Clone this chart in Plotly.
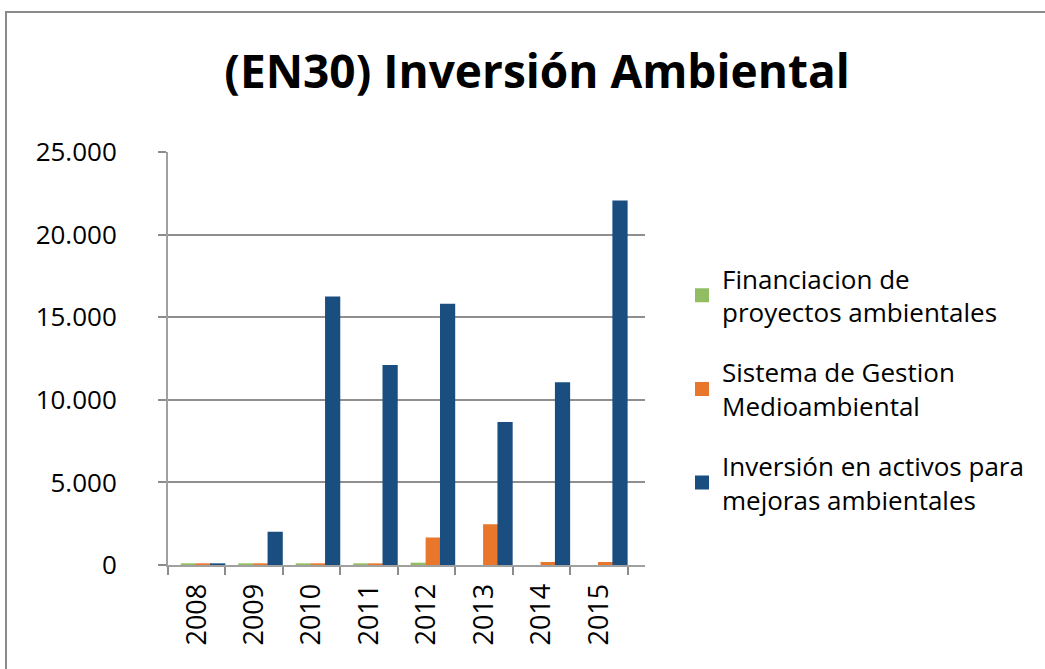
import plotly.graph_objects as go

years = ["2008", "2009", "2010", "2011", "2012", "2013", "2014", "2015"]
financiacion = [40, 40, 40, 40, 80, None, None, None]
sistema_gestion = [40, 40, 40, 40, 1600, 2400, 120, 120]
inversion_activos = [40, 1950, 16200, 12050, 15750, 8600, 11000, 22000]

series_names = [
    "Financiacion de<br>proyectos ambientales",
    "Sistema de Gestion<br>Medioambiental",
    "Inversión en activos para<br>mejoras ambientales",
]
colors = ["#93bd62", "#e9772b", "#1a4e80"]
series = [financiacion, sistema_gestion, inversion_activos]
offsets = [-0.26, 0.0, 0.25]

FONT = "Open Sans, Liberation Sans, sans-serif"

fig = go.Figure()
for i, (name, vals, col, off) in enumerate(zip(series_names, series, colors, offsets)):
    fig.add_trace(go.Bar(
        x=years, y=vals, name=name,
        marker=dict(color=col, line=dict(width=2, color=col)),
        width=0.23, offset=off,
        legendgroup=f"g{i}",
    ))

W, H = 1045, 669
ml, mr, mt, mb = 168, 400, 152, 104
pw = W - ml - mr
ph = H - mt - mb

fig.update_layout(
    width=W, height=H,
    margin=dict(l=ml, r=mr, t=mt, b=mb, pad=0),
    paper_bgcolor="white", plot_bgcolor="white",
    separators=",.",
    barmode="group",
    title=dict(
        text="<b>(EN30) Inversión Ambiental</b>",
        x=537 / W, xref="container", xanchor="center",
        y=1 - 72 / H, yref="container", yanchor="middle",
        font=dict(family=FONT, size=46, color="black"),
    ),
    font=dict(family=FONT, color="black"),
    legend=dict(
        x=(682 - ml) / pw, xanchor="left",
        y=(H - mb - 255) / ph, yanchor="top",
        font=dict(family=FONT, size=26, color="black"),
        tracegroupgap=23,
        bgcolor="rgba(0,0,0,0)",
        itemwidth=30,
    ),
    xaxis=dict(
        type="category",
        range=[-0.5, 7.8],
        tickangle=-90,
        tickfont=dict(family=FONT, size=27, color="black"),
        tickson="boundaries",
        ticks="outside", ticklen=8, tickcolor="#8c8c8c", tickwidth=2,
        showline=True, linecolor="#a0a0a0", linewidth=2,
        showgrid=False,
        ticklabelstandoff=6,
    ),
    yaxis=dict(
        range=[0, 25000],
        tickvals=[0, 5000, 10000, 15000, 20000, 25000],
        tickformat=",d",
        tickfont=dict(family=FONT, size=26, color="black"),
        ticks="outside", ticklen=8, tickcolor="#8c8c8c", tickwidth=2,
        showline=True, linecolor="#a0a0a0", linewidth=2,
        showgrid=True, gridcolor="#8f8f8f", gridwidth=2,
        zeroline=False,
        ticklabelstandoff=36,
    ),
    shapes=[dict(
        type="rect", xref="paper", yref="paper",
        x0=(6 - ml) / pw, x1=(1052 - ml) / pw,
        y0=(H - mb - 680) / ph, y1=(H - mb - 12) / ph,
        line=dict(color="#8a8a8a", width=2), fillcolor="rgba(0,0,0,0)",
        layer="below",
    )],
)

fig.write_html("out.html", config={"displayModeBar": False},
               post_script="document.body.style.margin='0';")
